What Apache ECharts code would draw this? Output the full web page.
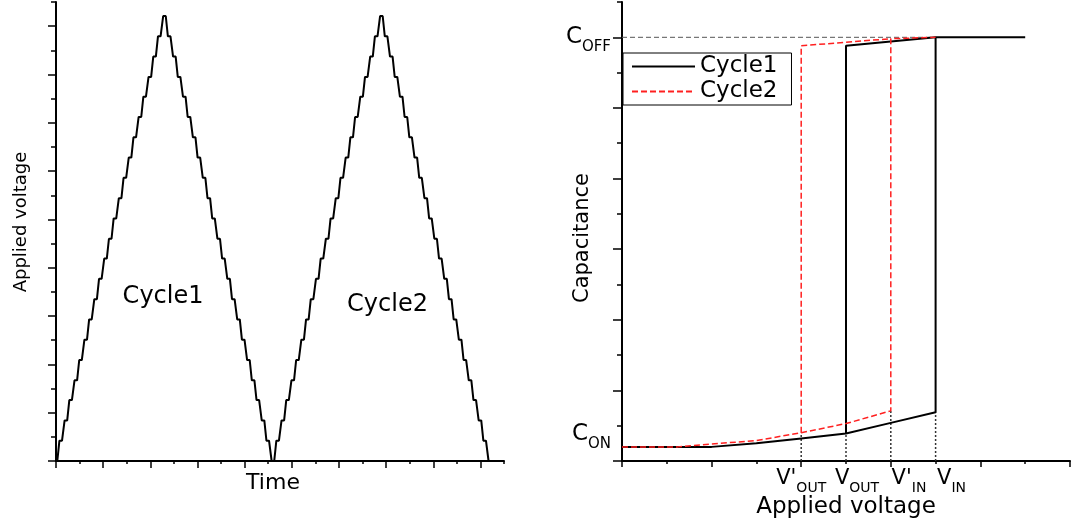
<!DOCTYPE html>
<html>
<head>
<meta charset="utf-8">
<script src="https://cdn.jsdelivr.net/npm/echarts@6/dist/echarts.min.js"></script>
<style>html,body{margin:0;padding:0;background:#fff;}#c{width:1071px;height:525px;}</style>
</head>
<body>
<div id="c"></div>
<script>
// ---------- Left panel: staircase applied voltage vs time ----------
const flatTimes = [0,0.10,0.21,0.31,0.42,0.52,0.63,0.73,0.84,0.94,1.05,1.15,1.25,1.36,1.46,1.57,1.67,1.78,1.88,1.99,2.09,2.19,2.30,
  2.40,2.51,2.61,2.72,2.82,2.93,3.03,3.14,3.24,3.34,3.45,3.55,3.66,3.76,3.87,3.97,4.08,4.18,4.28,4.39,4.49,4.60,
  4.70,4.81,4.91,5.02,5.12,5.23,5.33,5.43,5.54,5.64,5.75,5.85,5.96,6.06,6.17,6.27,6.37,6.48,6.58,6.69,6.79,6.90,
  7.00,7.11,7.21,7.32,7.42,7.52,7.63,7.73,7.84,7.94,8.05,8.15,8.26,8.36,8.46,8.57,8.67,8.78,8.88,8.99,9.09,9.20];
const flatLevels = [0,0.42,0.84,1.26,1.67,2.09,2.51,2.93,3.35,3.77,4.19,4.60,5.02,5.44,5.86,6.28,6.70,7.12,7.54,7.95,8.37,8.79,9.21,
  8.79,8.37,7.95,7.54,7.12,6.70,6.28,5.86,5.44,5.02,4.60,4.19,3.77,3.35,2.93,2.51,2.09,1.67,1.26,0.84,0.42,0,
  0.42,0.84,1.26,1.67,2.09,2.51,2.93,3.35,3.77,4.19,4.60,5.02,5.44,5.86,6.28,6.70,7.12,7.54,7.95,8.37,8.79,9.21,
  8.79,8.37,7.95,7.54,7.12,6.70,6.28,5.86,5.44,5.02,4.60,4.19,3.77,3.35,2.93,2.51,2.09,1.67,1.26,0.84,0.42,0];
const cycleLabelNames = ['Cycle1', 'Cycle2'];
const cycleLabelT = [2.27, 7.03];
const cycleLabelV = [3.39, 3.23];
const leftMajorTicks = [0,1,2,3,4,5,6,7,8,9];
const leftMinorTicks = [0.5,1.5,2.5,3.5,4.5,5.5,6.5,7.5,8.5,9.5];

// ---------- Right panel: capacitance vs applied voltage ----------
const cycle1Up = [[0,0.2],[2,0.2],[3,0.25],[4,0.32],[5,0.39],[6,0.54],[7,0.69],[7,6.0],[9,6.0]];
const cycle1Down = [[5,0.39],[5,5.88],[7,6.0]];
const cycle2Up = [[0,0.2],[1.25,0.2],[2,0.24],[3,0.29],[4,0.40],[5,0.53],[6,0.71],[6,5.98],[7,6.0]];
const cycle2Down = [[4,0.40],[4,5.88],[6,5.98]];
const cOffLevel = 6.0;
const cOffLineEnd = 7;
const guideX = [4, 5, 6, 7];
const guideTop = [0.40, 0.39, 0.71, 0.69];
const xLabelPos = [4, 5.245, 6.406, 7.355];
const xLabelMain = ["V'", 'V', "V'", 'V'];
const xLabelSub = ['OUT', 'OUT', 'IN', 'IN'];
const yLabelPos = [0.34, 5.96];
const yLabelMain = ['C', 'C'];
const yLabelSub = ['ON', 'OFF'];
const rightXMajor = [0,2,4,6,8,10];
const rightXMinor = [1,3,5,7,9];
const rightYMajor = [0,1,2,3,4,5,6];
const rightYMinor = [0.5,1.5,2.5,3.5,4.5,5.5,6.5];

const FONT = 'DejaVu Sans';
const stairHalfWidth = 0.0275;
const stair = [];
for (let j = 0; j < flatTimes.length; j++) {
  stair.push([flatTimes[j] - stairHalfWidth, flatLevels[j]]);
  stair.push([flatTimes[j] + stairHalfWidth, flatLevels[j]]);
}

function pickIdx(arr, v) {
  let best = 0;
  for (let i = 1; i < arr.length; i++) if (Math.abs(arr[i] - v) < Math.abs(arr[best] - v)) best = i;
  return best;
}
const richX = {
  m: {fontSize: 21, fontFamily: FONT, color: '#000', lineHeight: 27, verticalAlign: 'top'},
  s: {fontSize: 14, fontFamily: FONT, color: '#000', lineHeight: 15, verticalAlign: 'bottom'}
};
const richY = {
  m: {fontSize: 23, fontFamily: FONT, color: '#000', lineHeight: 29, verticalAlign: 'top'},
  s: {fontSize: 15, fontFamily: FONT, color: '#000', lineHeight: 15, verticalAlign: 'bottom'}
};

function baseAxis(gridIndex, min, max, pos, major, len, extra) {
  return Object.assign({
    type: 'value', gridIndex: gridIndex, min: min, max: max, position: pos,
    axisLine: {show: true, onZero: false, lineStyle: {color: '#000', width: 2}},
    axisTick: {show: true, inside: false, length: len, customValues: major, lineStyle: {color: '#000', width: 1.5}},
    axisLabel: {show: false}, splitLine: {show: false}, minorTick: {show: false}
  }, extra || {});
}
function tickOnlyAxis(gridIndex, min, max, pos, ticks, len) {
  return {
    type: 'value', gridIndex: gridIndex, min: min, max: max, position: pos,
    axisLine: {show: false, onZero: false},
    axisTick: {show: true, inside: false, length: len, customValues: ticks, lineStyle: {color: '#000', width: 1.5}},
    axisLabel: {show: false}, splitLine: {show: false}
  };
}

const chart = echarts.init(document.getElementById('c'));
const lineBase = {type: 'line', symbol: 'none', showSymbol: false, animation: false, silent: true};

const series = [
  Object.assign({}, lineBase, {xAxisIndex: 0, yAxisIndex: 0, data: stair, lineStyle: {color: '#000', width: 2}}),
  {type: 'scatter', xAxisIndex: 0, yAxisIndex: 0, symbolSize: 1, itemStyle: {color: 'rgba(0,0,0,0)'}, animation: false, silent: true,
   data: cycleLabelNames.map((n, i) => ({value: [cycleLabelT[i], cycleLabelV[i]], name: n})),
   label: {show: true, position: 'inside', formatter: p => p.name, color: '#000', opacity: 1, textBorderWidth: 0,
     fontSize: 24, fontFamily: FONT}},
  Object.assign({}, lineBase, {xAxisIndex: 2, yAxisIndex: 2, data: [[0, cOffLevel], [cOffLineEnd, cOffLevel]],
    lineStyle: {color: '#555', width: 1, type: [5, 3]}})
];
guideX.forEach((x, i) => {
  series.push(Object.assign({}, lineBase, {xAxisIndex: 2, yAxisIndex: 2, data: [[x, 0], [x, guideTop[i]]],
    lineStyle: {color: '#333', width: 1.5, type: [2, 2]}}));
});
series.push(Object.assign({}, lineBase, {name: 'Cycle1', xAxisIndex: 2, yAxisIndex: 2, data: cycle1Up, lineStyle: {color: '#000', width: 2}, itemStyle: {color: '#000'}}));
series.push(Object.assign({}, lineBase, {name: 'Cycle1', xAxisIndex: 2, yAxisIndex: 2, data: cycle1Down, lineStyle: {color: '#000', width: 2}, itemStyle: {color: '#000'}}));
series.push(Object.assign({}, lineBase, {name: 'Cycle2', xAxisIndex: 2, yAxisIndex: 2, data: cycle2Up, lineStyle: {color: '#ff2020', width: 1.5, type: [6, 3]}, itemStyle: {color: '#ff2020'}}));
series.push(Object.assign({}, lineBase, {name: 'Cycle2', xAxisIndex: 2, yAxisIndex: 2, data: cycle2Down, lineStyle: {color: '#ff2020', width: 1.5, type: [6, 3]}, itemStyle: {color: '#ff2020'}}));

chart.setOption({
  animation: false,
  backgroundColor: '#fff',
  textStyle: {fontFamily: FONT, color: '#000'},
  grid: [
    {left: 56, top: 2, width: 448, height: 459},
    {left: 622, top: 2, width: 448, height: 459}
  ],
  legend: {
    data: ['Cycle1', 'Cycle2'], orient: 'vertical', left: 623, top: 53,
    borderColor: '#000', borderWidth: 1, borderRadius: 0, backgroundColor: '#fff',
    padding: [2, 14, 2, 8], itemGap: 2, itemWidth: 63, itemHeight: 20,
    itemStyle: {opacity: 0},
    textStyle: {fontSize: 23, fontFamily: FONT, color: '#000'}
  },
  xAxis: [
    baseAxis(0, 0, 9.5, 'bottom', leftMajorTicks, 7, {name: 'Time', nameLocation: 'middle', nameGap: 11,
      nameTextStyle: {fontSize: 22, fontFamily: FONT, color: '#000', padding: [0, 14, 0, 0]}}),
    tickOnlyAxis(0, 0, 9.5, 'bottom', leftMinorTicks, 3),
    baseAxis(1, 0, 10, 'bottom', rightXMajor, 6, {name: 'Applied voltage', nameLocation: 'middle', nameGap: 35,
      nameTextStyle: {fontSize: 23, fontFamily: FONT, color: '#000'}}),
    tickOnlyAxis(1, 0, 10, 'bottom', rightXMinor, 3),
    {type: 'value', gridIndex: 1, min: 0, max: 10, position: 'bottom', axisLine: {show: false, onZero: false},
     axisTick: {show: false}, splitLine: {show: false},
     axisLabel: {show: true, margin: 7, customValues: xLabelPos, rich: richX,
       formatter: v => { const i = pickIdx(xLabelPos, v); return '{m|' + xLabelMain[i] + '}{s|' + xLabelSub[i] + '}'; }}}
  ],
  yAxis: [
    baseAxis(0, 0, 9.5, 'left', leftMajorTicks, 8, {name: 'Applied voltage', nameLocation: 'middle', nameGap: 26,
      nameTextStyle: {fontSize: 18, fontFamily: FONT, color: '#000', padding: [0, 0, 0, 19]}}),
    tickOnlyAxis(0, 0, 9.5, 'left', leftMinorTicks, 5),
    baseAxis(1, 0, 6.5, 'left', rightYMajor, 9, {name: 'Capacitance', nameLocation: 'middle', nameGap: 29,
      nameTextStyle: {fontSize: 21, fontFamily: FONT, color: '#000', padding: [0, 13, 0, 0]}}),
    tickOnlyAxis(1, 0, 6.5, 'left', rightYMinor, 5),
    {type: 'value', gridIndex: 1, min: 0, max: 6.5, position: 'left', axisLine: {show: false, onZero: false},
     axisTick: {show: false}, splitLine: {show: false},
     axisLabel: {show: true, margin: 11, customValues: yLabelPos, rich: richY,
       formatter: v => { const i = pickIdx(yLabelPos, v); return '{m|' + yLabelMain[i] + '}{s|' + yLabelSub[i] + '}'; }}}
  ],
  series: series
});
</script>
</body>
</html>
